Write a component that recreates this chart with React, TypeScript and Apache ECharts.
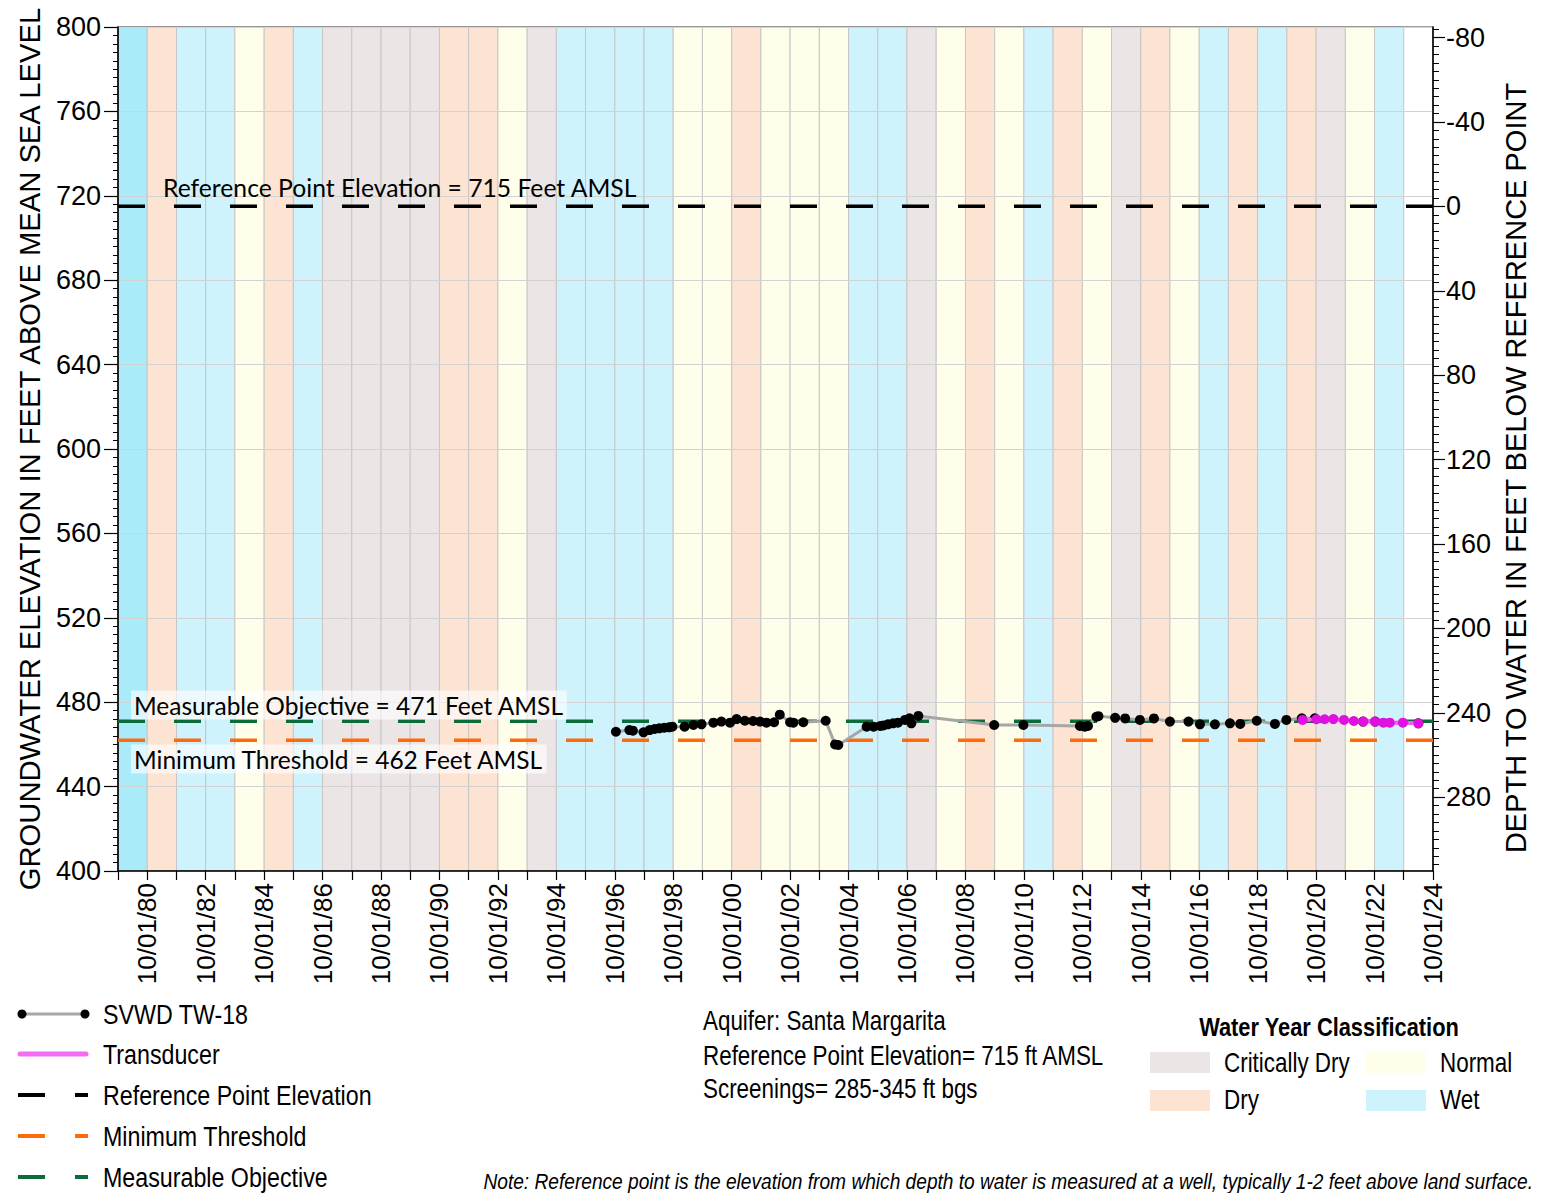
import React, { useEffect, useRef } from "react";
import * as echarts from "echarts";

// ---------- data ----------
const WATER_YEARS = [
  1980, 1981, 1982, 1983, 1984, 1985, 1986, 1987, 1988, 1989, 1990,
  1991, 1992, 1993, 1994, 1995, 1996, 1997, 1998, 1999, 2000,
  2001, 2002, 2003, 2004, 2005, 2006, 2007, 2008, 2009, 2010,
  2011, 2012, 2013, 2014, 2015, 2016, 2017, 2018, 2019, 2020,
  2021, 2022, 2023,
];
// W0 = first (brighter) wet band, W wet, D dry, N normal, C critically dry
const YEAR_CLASSES = [
  "W0", "D", "W", "W", "N", "D", "W", "C", "C", "C", "C",
  "D", "D", "N", "C", "W", "W", "W", "W", "N", "N",
  "D", "N", "N", "N", "W", "W", "C", "N", "D", "N",
  "W", "D", "N", "C", "D", "N", "W", "D", "W", "D",
  "C", "N", "W",
];
const CLASS_COLORS: Record<string, string> = {
  W0: "#AAEBFA",
  W: "#CFF3FC",
  D: "#FDE3D2",
  N: "#FEFEEB",
  C: "#EBE5E5",
};

const SVWD_DATES = [
  "1996-10-15", "1997-04-01", "1997-05-15", "1997-09-25", "1997-12-10",
  "1998-02-10", "1998-04-10", "1998-06-10", "1998-08-10", "1998-09-20",
  "1999-02-20", "1999-06-10", "1999-09-20", "2000-02-15", "2000-05-25",
  "2000-09-10", "2000-12-01", "2001-03-15", "2001-06-25", "2001-09-20",
  "2001-12-10", "2002-03-15", "2002-05-25", "2002-10-01", "2002-11-10",
  "2003-03-15", "2003-12-20", "2004-04-15", "2004-05-25", "2005-05-15",
  "2005-08-10", "2005-11-01", "2005-12-10", "2006-02-05", "2006-04-10",
  "2006-06-10", "2006-09-05", "2006-11-01", "2006-11-25", "2007-02-20",
  "2009-09-25", "2010-09-25", "2012-09-01", "2012-11-01", "2012-12-10",
  "2013-03-25", "2013-04-20", "2013-11-15", "2014-03-20", "2014-09-20",
  "2015-03-15", "2015-10-01", "2016-05-20", "2016-10-10", "2017-04-15",
  "2017-10-20", "2018-02-25", "2018-09-20", "2019-05-05", "2019-09-25",
  "2020-04-05", "2020-09-15", "2022-05-10", "2022-10-10", "2024-04-01",
];
const SVWD_VALUES = [
  466.0, 466.8, 466.5, 465.7, 466.8,
  467.3, 467.6, 467.9, 468.1, 468.4,
  468.4, 469.2, 469.5, 470.3, 470.8,
  470.3, 472.0, 471.2, 471.1, 470.8,
  470.3, 470.5, 474.1, 470.5, 470.3,
  470.5, 471.2, 460.0, 459.7, 468.4,
  468.4, 468.7, 469.0, 469.5, 470.0,
  470.3, 471.6, 472.4, 470.0, 473.5,
  469.2, 469.2, 468.7, 468.4, 468.7,
  473.1, 473.4, 472.6, 472.3, 471.6,
  472.3, 470.8, 470.8, 469.5, 469.5,
  470.0, 469.7, 471.2, 469.7, 471.6,
  472.4, 472.4, 470.8, 470.8, 470.0,
];

const TRANSDUCER_DATES = [
  "2020-04-15", "2020-10-05", "2021-01-15", "2021-05-05", "2021-09-15", "2022-01-15",
  "2022-05-15", "2022-10-05", "2023-01-20", "2023-04-10", "2023-09-20", "2024-04-01",
];
const TRANSDUCER_VALUES = [
  471.6, 471.9, 471.9, 472.0, 471.6, 471.1,
  470.8, 470.8, 470.3, 470.3, 470.3, 470.0,
];

const REFERENCE_ELEV = 715;
const MEASURABLE_OBJECTIVE = 471;
const MINIMUM_THRESHOLD = 462;

const X_MIN = "1979-10-01";
const X_MAX = "2024-10-01";
const TICK_YEARS = [
  1979, 1980, 1981, 1982, 1983, 1984, 1985, 1986, 1987, 1988, 1989, 1990,
  1991, 1992, 1993, 1994, 1995, 1996, 1997, 1998, 1999, 2000,
  2001, 2002, 2003, 2004, 2005, 2006, 2007, 2008, 2009, 2010,
  2011, 2012, 2013, 2014, 2015, 2016, 2017, 2018, 2019, 2020,
  2021, 2022, 2023, 2024,
];
const LABEL_YEARS = [
  1980, 1982, 1984, 1986, 1988, 1990, 1992, 1994, 1996, 1998, 2000,
  2002, 2004, 2006, 2008, 2010, 2012, 2014, 2016, 2018, 2020, 2022, 2024,
];
const DEPTH_LABELS = [-80, -40, 0, 40, 80, 120, 160, 200, 240, 280];

// ---------- styles ----------
const SANS = '"Liberation Sans", Arial, sans-serif';
const CAL = 'Lato, "Noto Sans", sans-serif';
const NARROW_SCALE = 0.83;

// date string "YYYY-MM-DD" -> timestamp (local)
function ts(s: string) {
  const [y, m, d] = s.split("-").map(Number);
  return new Date(y, m - 1, d).getTime();
}
function oct1(y: number) {
  return new Date(y, 9, 1).getTime();
}
function fmtDate(v: number) {
  const d = new Date(Math.round(v));
  const mm = String(d.getMonth() + 1).padStart(2, "0");
  const dd = String(d.getDate()).padStart(2, "0");
  const yy = String(d.getFullYear()).slice(2);
  return `${mm}/${dd}/${yy}`;
}

function txt(text: string, x: number, y: number, size: number, scaleX: number, extra: any = {}) {
  return {
    type: "text",
    z: 100,
    x,
    y,
    scaleX,
    scaleY: 1,
    style: {
      text,
      x: 0,
      y: 0,
      fill: "#000",
      fontSize: size,
      fontFamily: SANS,
      align: "left",
      textAlign: "left",
      verticalAlign: "middle",
      textVerticalAlign: "middle",
      ...extra,
    },
  };
}

function seg(x1: number, x2: number, y: number, color: string, w: number) {
  return {
    type: "line",
    z: 100,
    shape: { x1, y1: y, x2, y2: y },
    style: { stroke: color, lineWidth: w },
  };
}

export default function App() {
  const ref = useRef<HTMLDivElement>(null);

  useEffect(() => {
    if (!ref.current) return;
    const chart = echarts.init(ref.current, null, { renderer: "svg" });

    const minorDepthTicks: number[] = [];
    for (let v = -84; v <= 312; v += 4) minorDepthTicks.push(v);

    const xMin = ts(X_MIN);
    const xMax = ts(X_MAX);
    const hLine = (v: number) => [
      [xMin, v],
      [xMax, v],
    ];

    const option: any = {
      animation: false,
      backgroundColor: "#ffffff",
      textStyle: { fontFamily: SANS, color: "#000" },
      grid: {
        left: 118,
        right: 110,
        top: 27,
        bottom: 322,
        outerBoundsMode: "none",
        containLabel: false,
        show: true,
        borderColor: "#808080",
        borderWidth: 1.5,
        backgroundColor: "transparent",
      },
      xAxis: {
        type: "value",
        min: xMin,
        max: xMax,
        axisLine: { show: true, onZero: false, lineStyle: { color: "#000", width: 1.5 } },
        axisTick: {
          show: true,
          length: 9,
          lineStyle: { color: "#000", width: 1.2 },
          customValues: TICK_YEARS.map(oct1),
        },
        axisLabel: {
          customValues: LABEL_YEARS.map(oct1),
          rotate: 90,
          fontSize: 26,
          fontFamily: SANS,
          color: "#000",
          margin: 12,
          formatter: (v: number) => fmtDate(v),
        },
        splitLine: { show: false },
      },
      yAxis: [
        {
          type: "value",
          min: 400,
          max: 800,
          interval: 40,
          position: "left",
          name: "GROUNDWATER ELEVATION IN FEET ABOVE MEAN SEA LEVEL",
          nameLocation: "middle",
          nameRotate: 90,
          nameGap: 74,
          nameTextStyle: { fontSize: 29.2, fontFamily: SANS, color: "#000" },
          axisLine: { show: true, lineStyle: { color: "#000", width: 1.5 } },
          axisTick: { show: true, length: 14, lineStyle: { color: "#000", width: 1.2 } },
          minorTick: { show: true, splitNumber: 10, length: 5, lineStyle: { color: "#000", width: 1 } },
          axisLabel: { fontSize: 27, fontFamily: SANS, color: "#000", margin: 17 },
          splitLine: { show: true, lineStyle: { color: "#D2D2D2", width: 1 } },
        },
        {
          type: "value",
          min: -85,
          max: 315,
          inverse: true,
          position: "right",
          name: "DEPTH TO WATER IN FEET BELOW REFERENCE POINT",
          nameLocation: "middle",
          nameRotate: 90,
          nameGap: 68,
          nameTextStyle: {
            fontSize: 29,
            fontFamily: SANS,
            color: "#000",
            padding: [0, 38, 0, 0],
          },
          axisLine: { show: true, onZero: false, lineStyle: { color: "#000", width: 1.5 } },
          axisTick: {
            show: true,
            length: 12,
            customValues: DEPTH_LABELS,
            lineStyle: { color: "#000", width: 1.2 },
          },
          axisLabel: {
            customValues: DEPTH_LABELS,
            fontSize: 27,
            fontFamily: SANS,
            color: "#000",
            margin: 13,
          },
          splitLine: { show: false },
        },
        {
          type: "value",
          min: -85,
          max: 315,
          inverse: true,
          position: "right",
          axisLine: { show: false },
          axisTick: {
            show: true,
            length: 6,
            customValues: minorDepthTicks,
            lineStyle: { color: "#000", width: 1 },
          },
          axisLabel: { show: false },
          splitLine: { show: false },
        },
      ],
      series: [
        {
          name: "Water Year",
          type: "custom",
          z: -1,
          silent: true,
          encode: { x: [0, 1] },
          data: WATER_YEARS.map((wy) => [oct1(wy - 1), oct1(wy)]),
          renderItem: (params: any, api: any) => {
            const x0 = api.coord([api.value(0), 600])[0];
            const x1 = api.coord([api.value(1), 600])[0];
            const cs = params.coordSys;
            return {
              type: "rect",
              shape: { x: x0, y: cs.y, width: x1 - x0, height: cs.height },
              style: {
                fill: CLASS_COLORS[YEAR_CLASSES[params.dataIndex]],
                stroke: "#C6C6C6",
                lineWidth: 1,
              },
            };
          },
        },
        {
          name: "Reference Point Elevation",
          type: "line",
          z: 3,
          silent: true,
          showSymbol: false,
          data: hLine(REFERENCE_ELEV),
          lineStyle: { color: "#000", width: 3.5, type: [27, 29] },
        },
        {
          name: "Measurable Objective",
          type: "line",
          z: 3,
          silent: true,
          showSymbol: false,
          data: hLine(MEASURABLE_OBJECTIVE),
          lineStyle: { color: "#0B6B3A", width: 3.5, type: [27, 29] },
        },
        {
          name: "Minimum Threshold",
          type: "line",
          z: 3,
          silent: true,
          showSymbol: false,
          data: hLine(MINIMUM_THRESHOLD),
          lineStyle: { color: "#FF6A0A", width: 3.5, type: [27, 29] },
        },
        {
          name: "SVWD TW-18",
          type: "line",
          z: 5,
          data: SVWD_DATES.map((d, i) => [ts(d), SVWD_VALUES[i]]),
          symbol: "circle",
          symbolSize: 10,
          showAllSymbol: true,
          itemStyle: { color: "#000" },
          lineStyle: { color: "#A6A6A6", width: 3 },
        },
        {
          name: "Transducer",
          type: "line",
          z: 6,
          data: TRANSDUCER_DATES.map((d, i) => [ts(d), TRANSDUCER_VALUES[i]]),
          symbol: "circle",
          symbolSize: 10,
          showAllSymbol: true,
          itemStyle: { color: "#E010E0" },
          lineStyle: { color: "#F25CF2", width: 4 },
        },
      ],
      graphic: [
        // labels inside plot
        txt("Reference Point Elevation = 715 Feet AMSL", 163, 187, 24.7, 1, { fontFamily: CAL }),
        txt("Measurable Objective = 471 Feet AMSL", 131, 705, 24.5, 1, {
          fontFamily: CAL,
          backgroundColor: "rgba(255,255,255,0.6)",
          padding: [2, 3, 2, 3],
        }),
        txt("Minimum Threshold = 462 Feet AMSL", 131, 759, 24.5, 1, {
          fontFamily: CAL,
          backgroundColor: "rgba(255,255,255,0.6)",
          padding: [2, 3, 2, 3],
        }),
        // series legend
        seg(22, 85, 1014, "#A6A6A6", 3),
        { type: "circle", z: 101, shape: { cx: 22, cy: 1014, r: 4.5 }, style: { fill: "#000" } },
        { type: "circle", z: 101, shape: { cx: 85, cy: 1014, r: 4.5 }, style: { fill: "#000" } },
        txt("SVWD TW-18", 103, 1014, 28, NARROW_SCALE),
        { type: "line", z: 100, shape: { x1: 20, y1: 1054, x2: 86, y2: 1054 }, style: { stroke: "#F46CF4", lineWidth: 5, lineCap: "round" } },
        txt("Transducer", 103, 1054, 28, NARROW_SCALE),
        seg(18, 45, 1095, "#000", 4),
        seg(75, 88, 1095, "#000", 4),
        txt("Reference Point Elevation", 103, 1095, 28, NARROW_SCALE),
        seg(18, 45, 1136, "#FF6A0A", 4),
        seg(75, 88, 1136, "#FF6A0A", 4),
        txt("Minimum Threshold", 103, 1136, 28, NARROW_SCALE),
        seg(18, 45, 1177, "#0B6B3A", 4),
        seg(75, 88, 1177, "#0B6B3A", 4),
        txt("Measurable Objective", 103, 1177, 28, NARROW_SCALE),
        // well info
        txt("Aquifer: Santa Margarita", 703, 1021, 27, NARROW_SCALE),
        txt("Reference Point Elevation= 715 ft AMSL", 703, 1056, 27, NARROW_SCALE),
        txt("Screenings= 285-345 ft bgs", 703, 1089, 27, NARROW_SCALE),
        // water-year legend
        txt("Water Year Classification", 1329, 1027, 26, 0.84, {
          fontWeight: "bold",
          align: "center",
          textAlign: "center",
        }),
        { type: "rect", z: 100, shape: { x: 1150, y: 1052, width: 60, height: 21 }, style: { fill: CLASS_COLORS.C } },
        txt("Critically Dry", 1224, 1063, 27, NARROW_SCALE),
        { type: "rect", z: 100, shape: { x: 1366, y: 1052, width: 60, height: 21 }, style: { fill: CLASS_COLORS.N } },
        txt("Normal", 1440, 1063, 27, NARROW_SCALE),
        { type: "rect", z: 100, shape: { x: 1150, y: 1090, width: 60, height: 21 }, style: { fill: CLASS_COLORS.D } },
        txt("Dry", 1224, 1100, 27, NARROW_SCALE),
        { type: "rect", z: 100, shape: { x: 1366, y: 1090, width: 60, height: 21 }, style: { fill: CLASS_COLORS.W } },
        txt("Wet", 1440, 1100, 27, NARROW_SCALE),
        // footnote
        txt(
          "Note: Reference point is the elevation from which depth to water is measured at a well, typically 1-2 feet above land surface.",
          1533,
          1181,
          22,
          0.87,
          { fontStyle: "italic", align: "right", textAlign: "right" }
        ),
      ],
    };

    chart.setOption(option);
    return () => {
      chart.dispose();
    };
  }, []);

  return (
    <div
      ref={ref}
      style={{ position: "absolute", left: 0, top: 0, width: 1543, height: 1193, background: "#fff" }}
    />
  );
}
